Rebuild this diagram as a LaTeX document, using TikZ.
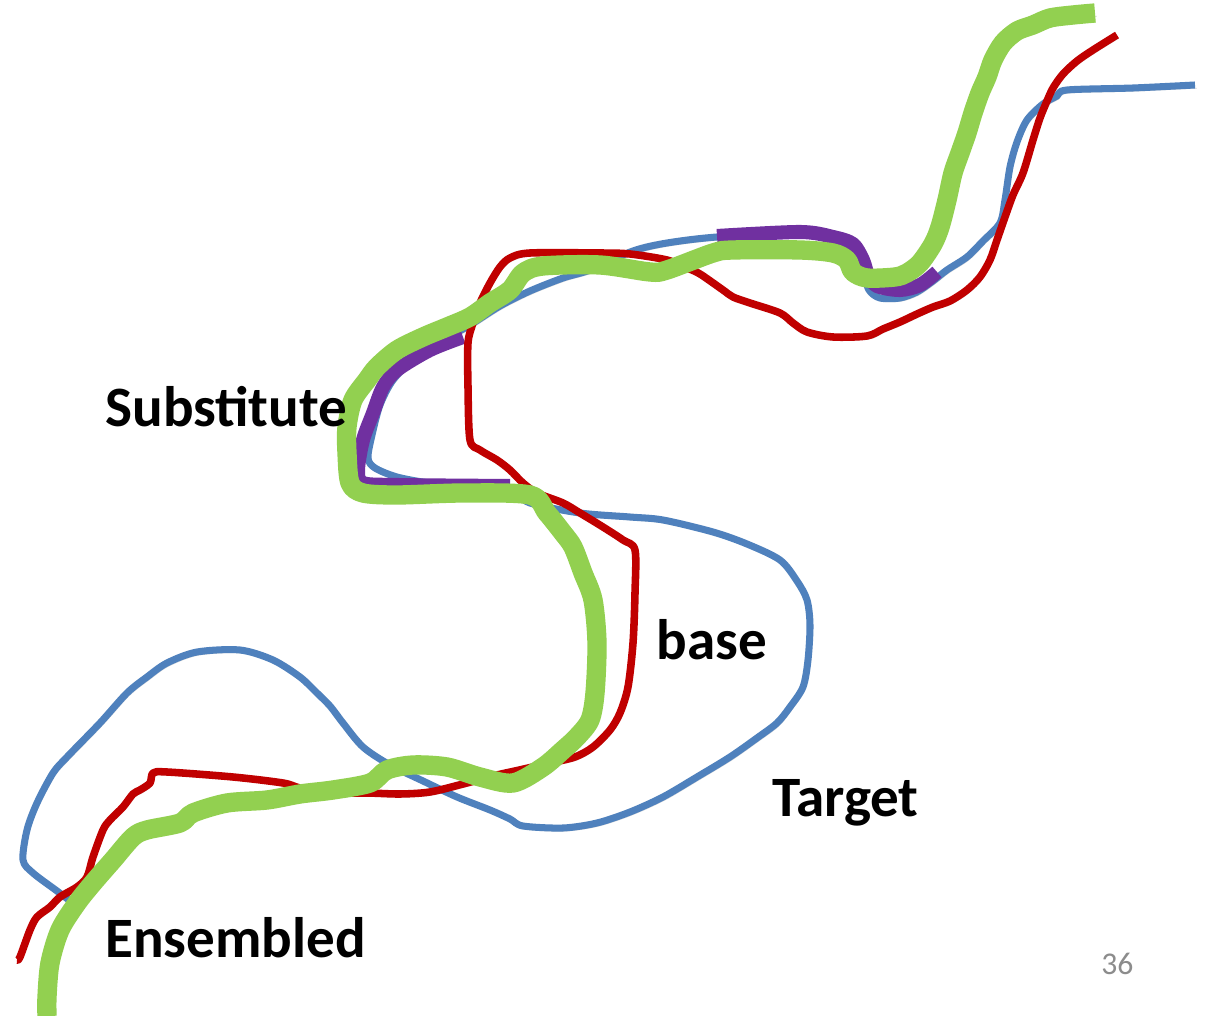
\documentclass[tikz,border=0pt]{standalone}
\usepackage{fontspec}
\setmainfont{Carlito}
\usepackage{tikz}
\definecolor{targetblue}{HTML}{4F81BD}
\definecolor{basered}{HTML}{C00000}
\definecolor{ensgreen}{HTML}{92D050}
\definecolor{subpurple}{HTML}{7030A0}
\definecolor{pagegray}{HTML}{8C8C8C}

\begin{document}
\begin{tikzpicture}
	[
		x				= 0.02cm,
		y				= -0.02cm,
		route/.style	=
		{
			line join	= round,
			smooth,
			tension		= 0.5,
			preaction	=
			{
				draw			= black,
				opacity			= 0.15,
				transform canvas = {xshift=1pt, yshift=-1.8pt}
			}
		},
		label/.style	=
		{
			anchor		= base west,
			inner sep	= 0pt,
			font		= \fontsize{32.5}{38}\selectfont\bfseries
		}
	]
		%
		\useasboundingbox[fill=white] (0,0) rectangle (1205,1016);
		%
		% target
		\draw[route, draw=targetblue, line width=4pt] plot coordinates
		{
			(1195,85) (1133,88) (1067,90) (1057,96) (1043,104) (1027,120) (1017,142)
			(1010,167) (1005,200) (1000,223) (983,241) (967,257) (947,270) (933,281)
			(917,292) (900,298) (880,298) (869,290) (862,270) (850,247) (820,236)
			(800,233) (717,237) (667,243) (633,251) (590,270) (563,278) (530,291)
			(500,306) (470,325) (440,342) (415,358) (393,380) (380,405) (372,435)
			(368,458) (375,468) (397,477) (430,483) (470,485) (510,490) (530,503)
			(580,513) (630,517) (663,520) (713,532) (747,544) (780,560) (797,581)
			(807,600) (810,625) (808,660) (803,687) (790,707) (777,723) (757,738)
			(730,757) (697,777) (663,797) (630,812) (597,823) (563,828) (523,826)
			(510,819) (490,810) (457,797) (423,781) (390,765) (363,747) (343,723)
			(330,706) (317,693) (300,677) (273,660) (240,650) (197,652) (167,663)
			(147,677) (127,693) (100,723) (67,757) (53,773) (37,803) (27,830)
			(23,860) (33,873) (57,891) (78,907)
		};
		%
		% substitute
		\draw[route, draw=subpurple, line width=8pt] plot coordinates
		{
			(510,486) (397,485) (363,483) (358,470) (363,440) (373,413) (383,387)
			(397,370) (430,350) (463,337)
		};
		\draw[route, draw=subpurple, line width=8pt] plot coordinates
		{
			(717,236) (800,232) (833,237) (853,244) (863,260) (868,275) (877,286)
			(900,290) (920,285) (937,272)
		};
		%
		% base
		\draw[route, draw=basered, line width=4.3pt] plot coordinates
		{
			(1117,35) (1093,50) (1077,61) (1063,74) (1053,88) (1047,101) (1040,118)
			(1033,140) (1023,173) (1013,195) (1005,217) (997,240) (990,260) (980,277)
			(967,290) (950,301) (933,307) (917,314) (900,322) (883,329) (867,336)
			(833,337) (807,332) (793,323) (780,313) (750,303) (733,297) (723,290)
			(700,274) (687,268) (667,260) (630,254) (600,253) (530,253) (510,258)
			(500,267) (490,283) (480,303) (473,323) (468,343) (468,387) (470,440)
			(480,450) (497,460) (510,470) (523,483) (537,493) (563,503) (580,513)
			(603,527) (623,540) (635,550) (635,593) (633,643) (628,687) (620,713)
			(610,730) (593,747) (575,757) (550,763) (515,771) (497,775) (463,784)
			(430,792) (400,794) (367,793) (330,793) (300,788) (283,783) (233,777)
			(167,772) (153,773) (150,783) (140,790) (133,794) (123,807) (110,820)
			(103,830) (93,857) (87,877) (77,887) (60,897) (50,907) (37,917)
			(30,930) (20,957) (17,960)
		};
		%
		% ensembled
		\draw[route, draw=ensgreen, line width=11pt] plot coordinates
		{
			(1095,13) (1073,15) (1050,18) (1033,25) (1017,31) (1003,43) (993,60)
			(987,77) (980,93) (973,113) (967,133) (960,153) (953,173) (947,200)
			(940,227) (933,244) (920,263) (907,273) (895,277) (867,278) (853,272)
			(847,260) (833,253) (800,250) (733,250) (713,253) (667,270) (650,272)
			(600,265) (543,266) (523,273) (510,290) (490,303) (470,317) (447,327)
			(423,337) (397,350) (377,367) (367,380) (353,400) (347,427) (347,453)
			(350,483) (363,493) (397,495) (463,493) (530,495) (547,513) (563,533)
			(573,547) (583,573) (593,600) (597,643) (595,693) (590,720) (577,737)
			(563,750) (543,767) (513,783) (480,777) (447,767) (413,765) (387,770)
			(370,783) (333,790) (300,794) (267,800) (227,803) (193,813) (180,823)
			(147,830) (133,837) (113,860) (93,883) (77,903) (60,930) (50,963)
			(47,997) (47,1016)
		};
		%
		% names of the routes
		\node[label] (substitute) at (105,427) {Substitute};
		\node[label] (base) at (656,660) {base};
		\node[label] (target) at (772,817) {Target};
		\node[label] (ensembled) at (105,958) {Ensembled};
		%
		\node[anchor=base west, inner sep=0pt, text=pagegray, font=\fontsize{18}{22}\selectfont]
			(page) at (1101,975) {36};
		%
	\end{tikzpicture}
\end{document}
